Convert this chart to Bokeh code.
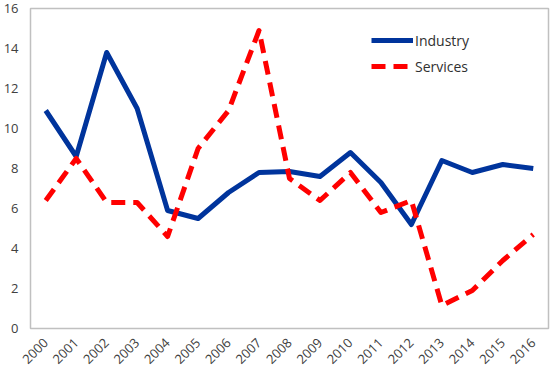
from bokeh.plotting import figure
from bokeh.models import FixedTicker, Legend, LegendItem, Range1d
from bokeh.embed import file_html
from bokeh.resources import INLINE
import math

years = [str(y) for y in range(2000, 2017)]
industry = [10.9, 8.6, 13.8, 11.0, 5.9, 5.5, 6.8, 7.8, 7.85, 7.6, 8.8, 7.3, 5.2, 8.4, 7.8, 8.2, 8.0]
services = [6.4, 8.5, 6.3, 6.3, 4.6, 9.0, 10.9, 14.9, 7.5, 6.4, 7.8, 5.8, 6.4, 1.15, 1.9, 3.4, 4.7]
y_ticks = [0, 2, 4, 6, 8, 10, 12, 14, 16]

p = figure(width=550, height=376, x_range=years, y_range=Range1d(0, 16),
           output_backend="svg", toolbar_location=None,
           min_border_left=28, min_border_top=8, min_border_right=2, min_border_bottom=48)

r1 = p.line(years, industry, line_color="#00349c", line_width=5, line_join="round")
r2 = p.line(years, services, line_color="#ff0000", line_width=5, line_dash="14 8", line_join="round")

p.xgrid.visible = False
p.ygrid.visible = False
p.outline_line_color = "#c0c0c0"
p.outline_line_width = 1.5

font = "Open Sans"
p.yaxis.ticker = FixedTicker(ticks=y_ticks)
for ax in (p.xaxis[0], p.yaxis[0]):
    ax.axis_line_color = None
    ax.major_tick_line_color = None
    ax.minor_tick_line_color = None
    ax.major_label_text_font = font
    ax.major_label_text_font_size = "13px"
    ax.major_label_text_color = "#404040"
p.yaxis.major_label_standoff = 6
p.xaxis.major_label_orientation = math.pi / 4
p.xaxis.major_label_standoff = 6
p.x_range.range_padding = 0

legend = Legend(items=[LegendItem(label="Industry", renderers=[r1]),
                       LegendItem(label="Services", renderers=[r2])],
                location=(341, 252), border_line_color=None, background_fill_alpha=0,
                label_text_font=font, label_text_font_size="14px", label_text_color="#303030",
                glyph_width=42, label_standoff=2, spacing=6)
p.add_layout(legend, "center")

open("out.html", "w").write(file_html(p, INLINE))
